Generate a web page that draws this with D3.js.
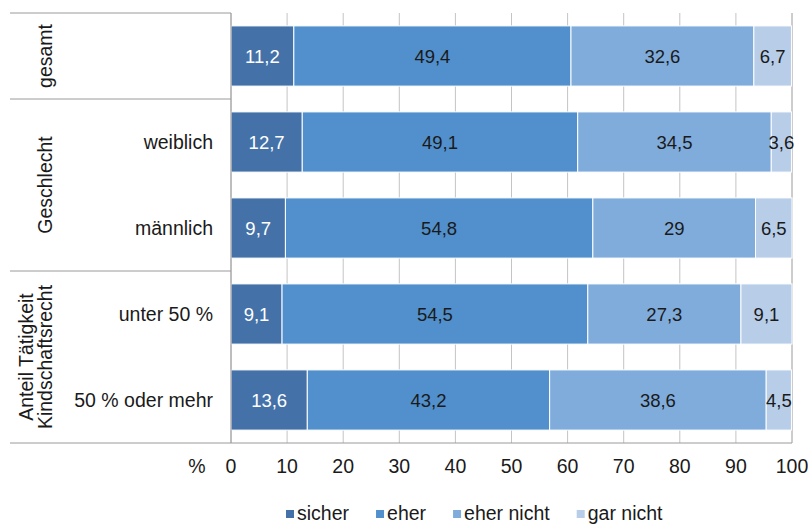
<!DOCTYPE html>
<html><head><meta charset="utf-8">
<script src="https://cdn.jsdelivr.net/npm/d3@7"></script>
<style>body{margin:0;background:#fff}svg{display:block}text{font-family:"Liberation Sans",Arial,sans-serif}</style>
</head><body><svg id="c" width="809" height="527"></svg>
<script>
const rows = ["gesamt","weiblich","männlich","unter 50 %","50 % oder mehr"];
const rowLabels = ["","weiblich","männlich","unter 50 %","50 % oder mehr"];
const groups = [
  {lines:["gesamt"], from:0, to:1},
  {lines:["Geschlecht"], from:1, to:3},
  {lines:["Anteil Tätigkeit","Kindschaftsrecht"], from:3, to:5}
];
const seriesNames = ["sicher","eher","eher nicht","gar nicht"];
const sicher    = [11.2, 12.7, 9.7, 9.1, 13.6];
const eher      = [49.4, 49.1, 54.8, 54.5, 43.2];
const eherNicht = [32.6, 34.5, 29, 27.3, 38.6];
const garNicht  = [6.7, 3.6, 6.5, 9.1, 4.5];
const xTicks = [0,10,20,30,40,50,60,70,80,90,100];
const colors = ["#4472a8","#5190cc","#80acdc","#b7cde8"];
const labelColors = ["#ffffff","#1a1a1a","#1a1a1a","#1a1a1a"];

const svg = d3.select("#c");
const L = 231, R = 792, T = 13, B = 443;
const FS = 18.5, FL = 19.5;
const x = d3.scaleLinear().domain([0,100]).range([L,R]);
const y = d3.scaleBand().domain(rows).range([T,B]).paddingInner(0.3).paddingOuter(0.15);
const yRow = d3.scaleBand().domain(rows).range([T,B]);

const table = rows.map((r,i)=>({row:r, sicher:sicher[i], eher:eher[i], "eher nicht":eherNicht[i], "gar nicht":garNicht[i]}));
const stack = d3.stack().keys(seriesNames)(table);

// gridlines
svg.append("g").selectAll("line").data(xTicks).join("line")
  .attr("x1",d=>x(d)).attr("x2",d=>x(d)).attr("y1",T).attr("y2",B)
  .attr("stroke",d=>d===100?"#9a9a9a":"#c4c4c4").attr("stroke-width",1);

// bars
const g = svg.append("g");
stack.forEach((s,si)=>{
  g.selectAll(null).data(s).join("rect")
    .attr("x",d=>x(d[0])).attr("width",d=>x(d[1])-x(d[0]))
    .attr("y",d=>y(d.data.row)).attr("height",y.bandwidth())
    .attr("fill",colors[si]).attr("stroke","#ffffff").attr("stroke-width",1);
  g.selectAll(null).data(s).join("text")
    .attr("x",d=>(x(d[0])+x(d[1]))/2).attr("y",d=>y(d.data.row)+y.bandwidth()/2)
    .attr("text-anchor","middle").attr("dominant-baseline","central")
    .attr("font-size",FS).attr("fill",labelColors[si])
    .text(d=>String(d.data[s.key]).replace(".",","));
});

// left axis line and bottom
svg.append("line").attr("x1",L).attr("x2",L).attr("y1",T).attr("y2",B).attr("stroke","#9a9a9a");
svg.append("line").attr("x1",L).attr("x2",R).attr("y1",B).attr("y2",B).attr("stroke","#9a9a9a");

// group separators
const seps = [0,1,3,5].map(i=> i<5 ? yRow(rows[i]) : B);
svg.append("g").selectAll("line").data(seps).join("line")
  .attr("x1",10).attr("x2",L).attr("y1",d=>d).attr("y2",d=>d).attr("stroke","#9a9a9a");

// row labels
svg.append("g").selectAll("text").data(rows).join("text")
  .attr("x",213).attr("y",d=>yRow(d)+yRow.bandwidth()/2)
  .attr("text-anchor","end").attr("dominant-baseline","central")
  .attr("font-size",FL).attr("fill","#1a1a1a")
  .text((d,i)=>rowLabels[i]);

// group labels (rotated)
groups.forEach(gr=>{
  const y0 = yRow(rows[gr.from]);
  const y1 = gr.to<5 ? yRow(rows[gr.to]) : B;
  const cy = (y0+y1)/2;
  const n = gr.lines.length;
  gr.lines.forEach((ln,li)=>{
    const cx = 45 - (n-1-li)*19;
    svg.append("text").attr("transform",`translate(${cx},${cy}) rotate(-90)`)
      .attr("text-anchor","middle").attr("dominant-baseline","central")
      .attr("font-size",FL).attr("fill","#1a1a1a").text(ln);
  });
});

// x tick labels
svg.append("g").selectAll("text").data(xTicks).join("text")
  .attr("x",d=>x(d)).attr("y",466).attr("text-anchor","middle").attr("dominant-baseline","central")
  .attr("font-size",FL).attr("fill","#1a1a1a").text(d=>d);
svg.append("text").attr("x",197).attr("y",466).attr("text-anchor","middle").attr("dominant-baseline","central")
  .attr("font-size",FL).attr("fill","#1a1a1a").text("%");

// legend
const lg = svg.append("g");
let lx = 286;
seriesNames.forEach((n,i)=>{
  lg.append("rect").attr("x",lx).attr("y",510).attr("width",8).attr("height",8).attr("fill",colors[i]);
  const t = lg.append("text").attr("x",lx+11).attr("y",513).attr("dominant-baseline","central")
    .attr("font-size",FL).attr("fill","#1a1a1a").text(n);
  lx += 11 + t.node().getComputedTextLength() + 27;
});
</script></body></html>
